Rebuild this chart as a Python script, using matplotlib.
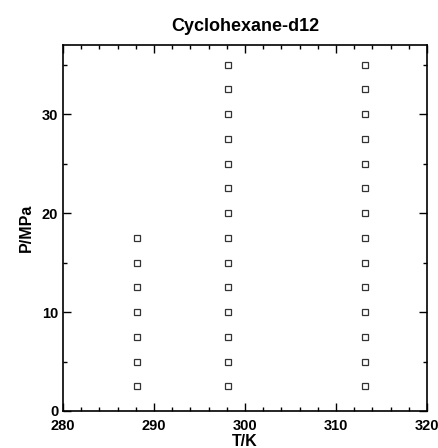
import numpy as np
import matplotlib
matplotlib.use("Agg")
import matplotlib.pyplot as plt
from matplotlib.ticker import MultipleLocator

plt.rcParams['font.family'] = ['Liberation Sans', 'DejaVu Sans']
plt.rcParams['font.weight'] = 'bold'

## Data: isotherms T/K and pressures P/MPa
T_iso = [288.15, 298.15, 313.15]
P_288 = [2.5, 5.0, 7.5, 10.0, 12.5, 15.0, 17.5]
P_298 = [2.5, 5.0, 7.5, 10.0, 12.5, 15.0, 17.5, 20.0, 22.5, 25.0, 27.5, 30.0, 32.5, 35.0]
P_313 = [2.5, 5.0, 7.5, 10.0, 12.5, 15.0, 17.5, 20.0, 22.5, 25.0, 27.5, 30.0, 32.5, 35.0]
P_all = [P_288, P_298, P_313]

fig = plt.figure(figsize=(4.38, 4.48), dpi=100)
ax = fig.add_axes([0.144, 0.0826, 0.831, 0.817])

for T, P in zip(T_iso, P_all):
    ax.plot([T] * len(P), P, linestyle='none', marker='s', markersize=4.3,
            markerfacecolor='white', markeredgecolor='#333333', markeredgewidth=0.9)

ax.set_xlim(280, 320)
ax.set_ylim(0, 37)
ax.xaxis.set_major_locator(MultipleLocator(10))
ax.xaxis.set_minor_locator(MultipleLocator(2))
ax.yaxis.set_major_locator(MultipleLocator(10))
ax.yaxis.set_minor_locator(MultipleLocator(5))
ax.tick_params(which='both', direction='in', top=True, right=True, labelsize=10.5)
ax.tick_params(which='major', length=6, width=1)
ax.tick_params(which='minor', length=3, width=1)
ax.tick_params(axis='x', which='major', pad=5.5)
for s in ax.spines.values():
    s.set_linewidth(1.2)

ax.set_xlabel('T/K', fontsize=11.5, fontweight='bold', labelpad=1)
ax.set_ylabel('P/MPa', fontsize=11.5, fontweight='bold', labelpad=6)
ax.set_title('Cyclohexane-d12', fontsize=13, fontweight='bold', pad=10)

fig.savefig('out.png', dpi=100)
